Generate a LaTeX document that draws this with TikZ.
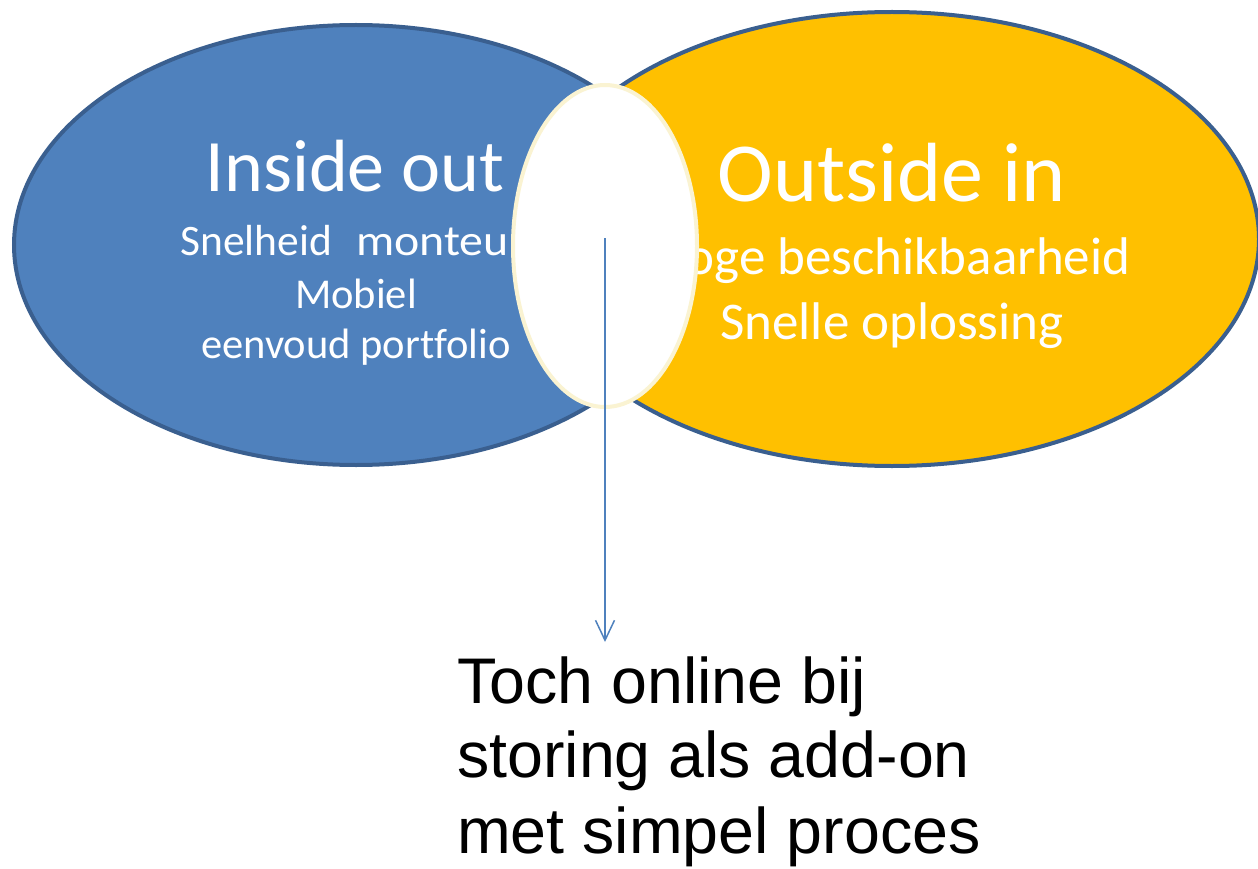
\documentclass[tikz,border=0pt]{standalone}
\usepackage{graphicx}
\usepackage{fontspec}
\setmainfont[Ligatures=CommonOff]{Carlito}
\newfontfamily\arialfont{Liberation Sans}
\usetikzlibrary{shapes.geometric,arrows.meta}
\definecolor{blueFill}{HTML}{4F81BD}
\definecolor{blueLine}{HTML}{3A5F8F}
\definecolor{goldFill}{HTML}{FFC000}
\definecolor{paleLine}{HTML}{FAF3D2}
\tikzset{
  circlebase/.style={ellipse, inner sep=0pt, outer sep=0pt},
  bluecirc/.style={circlebase, fill=blueFill, draw=blueLine, line width=4pt},
  goldcirc/.style={circlebase, fill=goldFill, draw=blueLine, line width=4pt},
  midcirc/.style={circlebase, fill=white, draw=paleLine, line width=4pt},
  wtitle/.style={text=white, inner sep=0pt, anchor=base},
  wsub/.style={text=white, inner sep=0pt, anchor=base},
  btext/.style={text=black, inner sep=0pt, anchor=base west, font=\arialfont\fontsize{64.5}{75}\selectfont},
  pointer/.style={draw=blueFill, line width=1.5pt, -{Straight Barb[length=20pt,width=19pt,line width=1.5pt]}}
}
\begin{document}
\begin{tikzpicture}[x=1pt,y=-1pt]
\useasboundingbox (0,0) rectangle (1258,869);
\node[bluecirc, minimum width=684pt, minimum height=440pt] (left) at (356,245) {};
\node[goldcirc, minimum width=734pt, minimum height=454pt] (right) at (892,239) {};
% left texts
\node[wtitle, font=\fontsize{74}{89}\selectfont] (lt) at (355,192) {Inside out};
\node[wsub, font=\fontsize{43.5}{52}\selectfont, anchor=base west] (l1) at (180,255) {Snelheid\hspace{24pt}\scalebox{1.1}[1]{monteur}};
\node[wsub, font=\fontsize{42.5}{51}\selectfont] (l2) at (356,308) {Mobiel};
\node[wsub, font=\fontsize{42.5}{51}\selectfont] (l3) at (356,358) {eenvoud portfolio};
% right texts
\node[wtitle, font=\fontsize{84}{100}\selectfont] (rt) at (892,202) {Outside in};
\node[wsub, font=\fontsize{53}{64}\selectfont] (r1) at (892,274) {Hoge beschikbaarheid};
\node[wsub, font=\fontsize{53}{64}\selectfont] (r2) at (892,339) {Snelle oplossing};
% middle
\node[midcirc, minimum width=184pt, minimum height=322pt] (mid) at (605,246) {};
\coordinate (start) at (605,238);
\coordinate (tip) at (605,642);
\draw[pointer] (start) -- (tip);
% bottom text
\node[btext] (b1) at (457,703) {Toch online bij};
\node[btext] (b2) at (457,777) {storing als add-on};
\node[btext] (b3) at (457,853) {met simpel proces};
\end{tikzpicture}
\end{document}
